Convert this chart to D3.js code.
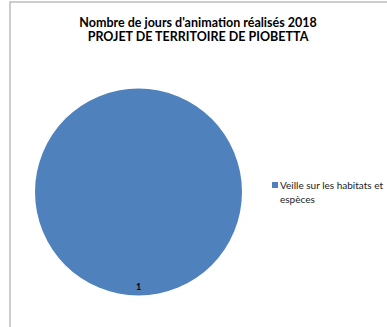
<!DOCTYPE html>
<html>
<head>
<meta charset="utf-8">
<script src="https://cdn.jsdelivr.net/npm/d3@7"></script>
<style>
  body { margin: 0; background: #fff; }
  text { font-family: Lato, "Open Sans", sans-serif; }
</style>
</head>
<body>
<div class="chart"></div>
<script>
var width = 387,
    height = 327;

// data
const titleLines = ["Nombre de jours d'animation réalisés 2018", "PROJET DE TERRITOIRE DE PIOBETTA"];
const categories = ["Veille sur les habitats et espèces"];
const values = [1];
const legendLines = ["Veille sur les habitats et", "espèces"];

const svg = d3.select(".chart")
    .append("svg")
    .attr("width", width)
    .attr("height", height);

// chart area border (right & bottom fall outside the window)
svg.append("rect")
    .attr("x", 10)
    .attr("y", 2)
    .attr("width", 400)
    .attr("height", 340)
    .attr("fill", "none")
    .attr("stroke", "#bdbdbd")
    .attr("stroke-width", 1.5);

// title
svg.append("g").selectAll("text")
    .data(titleLines)
    .enter().append("text")
    .attr("x", 198)
    .attr("y", (d, i) => 26.5 + i * 14)
    .attr("text-anchor", "middle")
    .attr("font-size", "12.5px")
    .attr("font-weight", "bold")
    .attr("fill", "#000")
    .text(d => d);

const color = d3.scaleOrdinal().domain(categories).range(["#4f81bd"]);

const pie = d3.pie().sort(null);
const radius = 103.5;
const arc = d3.arc().innerRadius(0).outerRadius(radius);

const g = svg.append("g").attr("transform", "translate(138.5,192)");

g.selectAll("path")
    .data(pie(values))
    .enter().append("path")
    .attr("d", arc)
    .attr("fill", (d, i) => color(categories[i]));

// data label, sits just inside the bottom edge
g.selectAll(".lbl")
    .data(pie(values))
    .enter().append("text")
    .attr("class", "lbl")
    .attr("x", 0)
    .attr("y", radius - 6)
    .attr("text-anchor", "middle")
    .attr("font-size", "9px")
    .attr("font-weight", "bold")
    .attr("fill", "#000")
    .text(d => d.value);

// legend
const legend = svg.append("g").attr("transform", "translate(272,182)");
legend.append("rect")
    .attr("width", 6)
    .attr("height", 6)
    .attr("fill", color(categories[0]));
legend.selectAll("text")
    .data(legendLines)
    .enter().append("text")
    .attr("x", 8)
    .attr("y", (d, i) => 7 + i * 14)
    .attr("font-size", "10px")
    .attr("fill", "#222")
    .text(d => d);
</script>
</body>
</html>
